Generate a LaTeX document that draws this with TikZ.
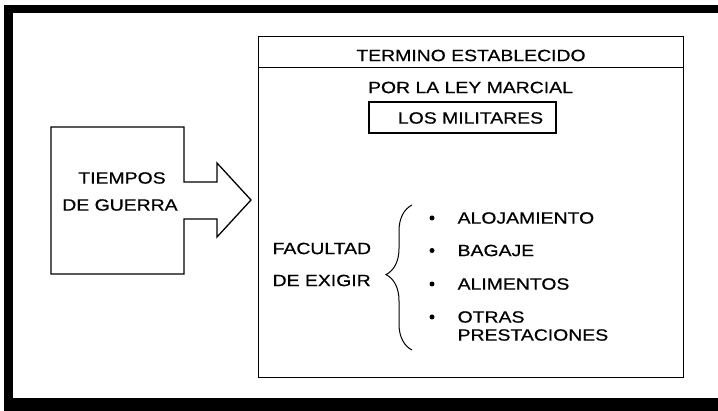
\documentclass[tikz,border=0pt]{standalone}
\usepackage{fontspec}
\setmainfont{Liberation Sans}[FakeStretch=1.19,FakeBold=0.6]
\usetikzlibrary{decorations.pathreplacing}

\begin{document}
\begin{tikzpicture}[x=1pt,y=-1pt,line width=1.3pt,
  lbl/.style={inner sep=0pt,font=\fontsize{16.3}{18}\selectfont},
  item/.style={lbl,anchor=west},
  punto/.style={circle,fill,inner sep=0pt,minimum size=5pt}]
\useasboundingbox (0,0) rectangle (718,411);
\fill (4,5) rectangle (718,13);
\fill (4,5) rectangle (13,411);
\fill (4,398) rectangle (718,411);

\draw (51,127) -- (184,127) -- (184,182) -- (217,182) -- (217,163) -- (251,200)
  -- (217,237) -- (217,219) -- (184,219) -- (184,274) -- (51,274) -- cycle;
\node[lbl] (tiempos) at (122,178) {TIEMPOS};
\node[lbl] (guerra) at (120,205) {DE GUERRA};

\node[draw,anchor=north west,minimum width=425pt,minimum height=341pt] (marco) at (258,36) {};
\node[draw,anchor=north west,minimum width=425pt,minimum height=31pt] (cabecera) at (258,36) {};
\node[lbl] (termino) at (471,55.5) {TERMINO ESTABLECIDO};
\node[lbl] (ley) at (470.5,87.5) {POR LA LEY MARCIAL};
\node[draw,minimum width=187pt,minimum height=31pt] (caja) at (462.5,117.5) {};
\node[lbl] (militares) at (470.5,118) {LOS MILITARES};

\node[item] (facultad) at (272,248.5) {FACULTAD};
\node[item] (exigir) at (272,280.5) {DE EXIGIR};
\coordinate (llaveinf) at (412,350);
\coordinate (llavesup) at (412,205);
\draw[line width=1pt,decorate,decoration={brace,amplitude=26pt,aspect=0.52}] (llaveinf) -- (llavesup);

\foreach \y/\t [count=\i] in {218/ALOJAMIENTO,250.5/BAGAJE,284/ALIMENTOS,317/OTRAS}{
  \node[punto] (p\i) at (432,\y) {};
  \node[item] (it\i) at (457,\y) {\t};
}
\node[item] (it5) at (457,335) {PRESTACIONES};
\end{tikzpicture}
\end{document}
